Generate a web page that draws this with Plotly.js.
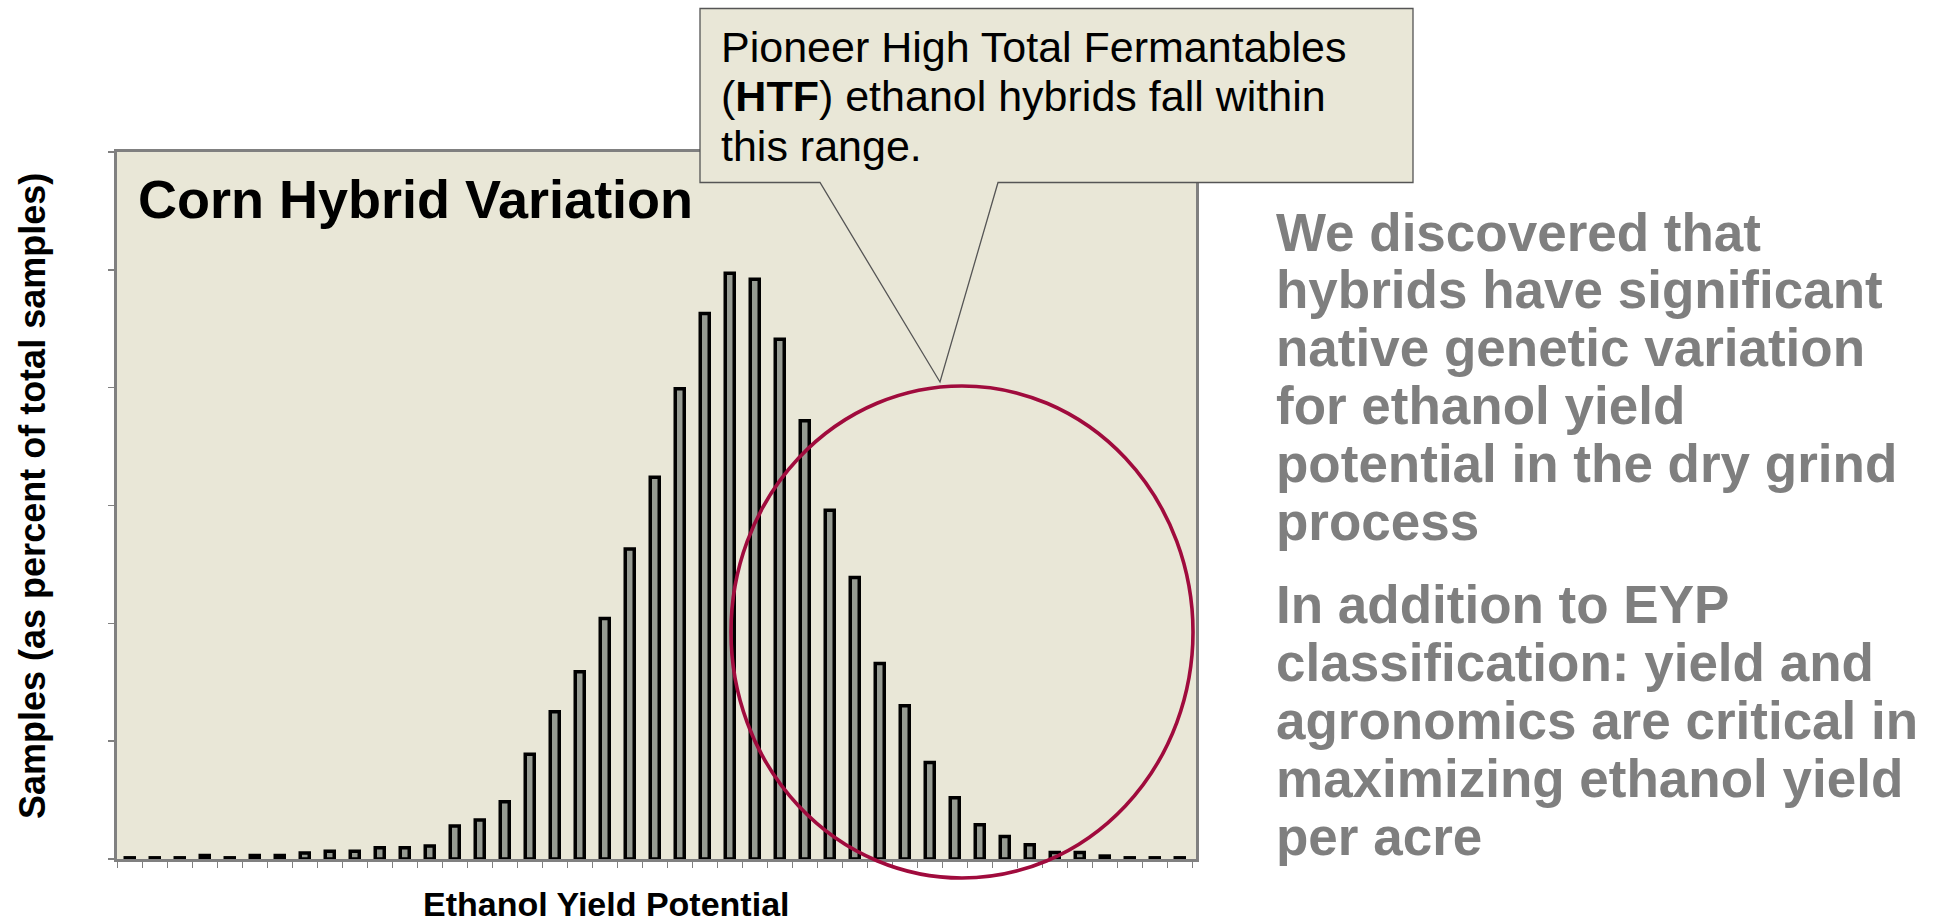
<!DOCTYPE html>
<html>
<head>
<meta charset="utf-8">
<script src="https://cdn.plot.ly/plotly-3.0.1.min.js"></script>
<style>
  html, body { margin: 0; padding: 0; background: #ffffff; }
  #chart { width: 1933px; height: 923px; }
</style>
</head>
<body>
<div id="chart"></div>
<script>
// ---- data ----
const yieldBins = [1,2,3,4,5,6,7,8,9,10,11,12,13,14,15,16,17,18,19,20,21,22,23,24,25,26,27,28,29,30,31,32,33,34,35,36,37,38,39,40,41,42,43];
const samplePercent = [0.02,0.02,0.02,0.06,0.02,0.06,0.06,0.10,0.13,0.13,
                       0.19,0.19,0.22,0.56,0.66,0.97,1.78,2.50,3.18,4.08,
                       5.26,6.48,7.98,9.26,9.94,9.84,8.82,7.44,5.92,4.78,
                       3.32,2.60,1.64,1.04,0.58,0.38,0.24,0.11,0.11,0.05,
                       0.02,0.02,0.02];
const chartTitle = "Corn Hybrid Variation";
const xTitle = "Ethanol Yield Potential";
const yTitle = "Samples (as percent of total samples)";
const calloutLines = ["Pioneer High Total Fermantables", "(<b>HTF</b>) ethanol hybrids fall within", "this range."];
const sideLines1 = ["We discovered that", "hybrids have significant", "native genetic variation", "for ethanol yield", "potential in the dry grind", "process"];
const sideLines2 = ["In addition to EYP", "classification: yield and", "agronomics are critical in", "maximizing ethanol yield", "per acre"];

// ---- layout geometry ----
const W = 1933, H = 923;
const M = {l: 117, r: 737, t: 152, b: 64};
const PW = W - M.l - M.r, PH = H - M.t - M.b;
const px = v => (v - M.l) / PW;          // pixel x -> paper x
const py = v => (H - M.b - v) / PH;      // pixel y -> paper y

const FONT = "Liberation Sans, Arial, Helvetica, sans-serif";
const BG = "#E9E7D7";
const GRAY = "#808080";

const trace = {
  type: "bar",
  x: yieldBins,
  y: samplePercent,
  width: 0.36,
  marker: { color: "#969B92", line: { color: "#000000", width: 3.5 } },
  hoverinfo: "skip"
};

const annotations = [];
function addText(text, x, yc, size, color, bold) {
  annotations.push({
    xref: "paper", yref: "paper", x: px(x), y: py(yc),
    xanchor: "left", yanchor: "middle", showarrow: false,
    text: bold ? "<b>" + text + "</b>" : text,
    font: { family: FONT, size: size, color: color }, borderpad: 0
  });
}
addText(chartTitle, 137, 199, 54, "#000000", true);
calloutLines.forEach((t, i) => addText(t, 720, 47 + i * 49.5, 43, "#000000", false));
sideLines1.forEach((t, i) => addText(t, 1275, 232 + i * 57.8, 53, "#7F7F7F", true));
sideLines2.forEach((t, i) => addText(t, 1275, 604 + i * 58, 53, "#7F7F7F", true));

annotations.push({
  xref: "paper", yref: "paper", x: px(606), y: py(904),
  xanchor: "center", yanchor: "middle", showarrow: false,
  text: "<b>" + xTitle + "</b>", font: { family: FONT, size: 34, color: "#000" }
});
annotations.push({
  xref: "paper", yref: "paper", x: px(32), y: py(496),
  xanchor: "center", yanchor: "middle", showarrow: false, textangle: -90,
  text: "<b>" + yTitle + "</b>", font: { family: FONT, size: 36, color: "#000" }
});

// callout box with pointer
const bx0 = 700, bx1 = 1413, by0 = 8.5, by1 = 182.5;
const wl = 820, wr = 998, ax = 940, ay = 382;
const calloutPath = `M${px(bx0)},${py(by0)} L${px(bx1)},${py(by0)} L${px(bx1)},${py(by1)} L${px(wr)},${py(by1)} L${px(ax)},${py(ay)} L${px(wl)},${py(by1)} L${px(bx0)},${py(by1)} Z`;

const shapes = [
  { type: "path", xref: "paper", yref: "paper", path: calloutPath,
    fillcolor: BG, line: { color: "#555555", width: 1.3 }, layer: "above" },
  { type: "circle", xref: "paper", yref: "paper",
    x0: px(731), x1: px(1193), y0: py(878), y1: py(386),
    line: { color: "#A00B3D", width: 3.6 }, fillcolor: "rgba(0,0,0,0)", layer: "above" }
];

const layout = {
  width: W, height: H,
  margin: M,
  paper_bgcolor: "#FFFFFF",
  plot_bgcolor: BG,
  showlegend: false,
  xaxis: {
    range: [0.49, 43.65], showgrid: false, zeroline: false,
    showline: true, mirror: true, linecolor: GRAY, linewidth: 3,
    ticks: "outside", tickmode: "linear", tick0: 0.5, dtick: 1,
    ticklen: 6, tickwidth: 1.5, tickcolor: GRAY, showticklabels: false
  },
  yaxis: {
    range: [0, 12], showgrid: false, zeroline: false,
    showline: true, mirror: true, linecolor: GRAY, linewidth: 3,
    ticks: "outside", tickmode: "linear", tick0: 0, dtick: 2,
    ticklen: 6, tickwidth: 1.5, tickcolor: GRAY, showticklabels: false
  },
  annotations: annotations,
  shapes: shapes
};

Plotly.newPlot("chart", [trace], layout, { staticPlot: true, displayModeBar: false });
</script>
</body>
</html>
